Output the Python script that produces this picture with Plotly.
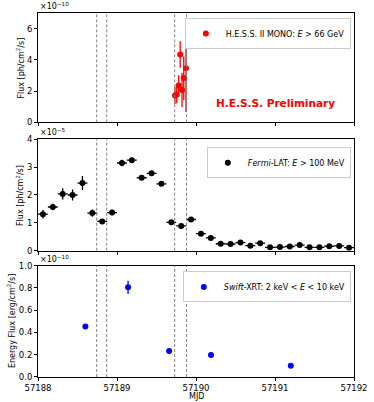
import plotly.graph_objects as go
from plotly.subplots import make_subplots

# H.E.S.S. II MONO light curve (units of 1e-10 ph/cm2/s)
hess_mjd = [57189.734, 57189.756, 57189.780, 57189.800, 57189.823, 57189.845, 57189.873]
hess_flux = [1.72, 1.78, 2.36, 4.35, 2.08, 2.84, 3.46]
hess_err = [0.55, 0.55, 0.65, 0.85, 1.1, 1.4, 2.8]

# Fermi-LAT 3-hour bins (units of 1e-5 ph/cm2/s)
fermi_mjd = [57188.0625 + 0.125 * i for i in range(32)]
fermi_flux = [1.31, 1.57, 2.04, 2.00, 2.43, 1.35, 1.05, 1.37, 3.15, 3.25, 2.62, 2.78,
              2.40, 1.02, 0.89, 1.12, 0.61, 0.46, 0.25, 0.24, 0.29, 0.18, 0.27, 0.12,
              0.13, 0.15, 0.20, 0.12, 0.12, 0.16, 0.17, 0.11]
fermi_err = [0.15, 0.12, 0.20, 0.20, 0.25, 0.13, 0.08, 0.10, 0.12, 0.10, 0.08, 0.08,
             0.07, 0.05, 0.06, 0.08, 0.05, 0.04, 0.03, 0.03, 0.04, 0.03, 0.03, 0.02,
             0.02, 0.03, 0.03, 0.02, 0.02, 0.03, 0.03, 0.02]
fermi_xerr = 0.0625

# Swift-XRT (units of 1e-10 erg/cm2/s)
swift_mjd = [57188.60, 57189.14, 57189.66, 57190.19, 57191.20]
swift_flux = [0.454, 0.805, 0.233, 0.197, 0.100]
swift_err = [0.015, 0.06, 0.015, 0.01, 0.008]

# dashed markers
vlines = [57188.743, 57188.87, 57189.73, 57189.88]

FONT = "DejaVu Sans"

fig = make_subplots(rows=3, cols=1, shared_xaxes=False)

fig.add_trace(go.Scatter(x=hess_mjd, y=hess_flux, mode="markers",
                         error_y=dict(type="data", array=hess_err, color="red", thickness=1.3, width=0),
                         marker=dict(color="red", size=6),
                         name="H.E.S.S. II MONO: <i>E</i> > 66 GeV", legend="legend"), row=1, col=1)
fig.add_trace(go.Scatter(x=fermi_mjd, y=fermi_flux, mode="markers",
                         error_y=dict(type="data", array=fermi_err, color="black", thickness=1.3, width=0),
                         error_x=dict(type="constant", value=fermi_xerr, color="black", thickness=1.3, width=0),
                         marker=dict(color="black", size=6),
                         name="<i>Fermi</i>-LAT: <i>E</i> > 100 MeV", legend="legend2"), row=2, col=1)
fig.add_trace(go.Scatter(x=swift_mjd, y=swift_flux, mode="markers",
                         error_y=dict(type="data", array=swift_err, color="blue", thickness=1.3, width=0),
                         marker=dict(color="blue", size=6),
                         name="<i>Swift</i>-XRT: 2 keV < <i>E</i> < 10 keV", legend="legend3"), row=3, col=1)

for r in (1, 2, 3):
    for v in vlines:
        fig.add_vline(x=v, line=dict(color="gray", width=1, dash="3px,2px"), row=r, col=1)

axis_style = dict(showline=True, linecolor="black", linewidth=1, mirror=True, ticks="outside",
                  ticklen=3, tickcolor="black", showgrid=False, zeroline=False, automargin=False,
                  tickfont=dict(family=FONT, size=8.5, color="black"))

domains = [[0.6995, 1.0], [0.347, 0.653], [0.0, 0.306]]
for i, (name_x, name_y) in enumerate([("xaxis", "yaxis"), ("xaxis2", "yaxis2"), ("xaxis3", "yaxis3")]):
    fig.layout[name_x].update(range=[57188, 57192], tickvals=[57188, 57189, 57190, 57191, 57192],
                              showticklabels=(i == 2), **axis_style)
    fig.layout[name_y].update(domain=domains[i], **axis_style)

fig.update_yaxes(range=[0, 7], tickvals=[0, 2, 4, 6], row=1, col=1)
fig.update_yaxes(range=[0, 4], tickvals=[0, 1, 2, 3, 4], row=2, col=1)
fig.update_yaxes(range=[0, 1], tickvals=[0, 0.2, 0.4, 0.6, 0.8, 1.0], tickformat=".1f", row=3, col=1)
fig.update_xaxes(row=3, col=1, tickformat="d")

# axis titles placed like matplotlib labels
title_font = dict(family=FONT, size=8, color="black")
for x, y, txt in [(-0.057, 0.85, "Flux [ph/cm<sup>2</sup>/s]"),
                  (-0.057, 0.50, "Flux [ph/cm<sup>2</sup>/s]"),
                  (-0.083, 0.153, "Energy Flux [erg/cm<sup>2</sup>/s]")]:
    fig.add_annotation(text=txt, xref="paper", yref="paper", x=x, y=y, textangle=-90,
                       xanchor="center", yanchor="middle", showarrow=False, font=title_font)
fig.add_annotation(text="MJD", xref="paper", yref="paper", x=0.5, y=-0.069,
                   xanchor="center", yanchor="bottom", showarrow=False, font=title_font,
                   borderpad=0)

leg = dict(xanchor="right", yanchor="top", bgcolor="white", bordercolor="#cccccc", borderwidth=1,
           font=dict(family=FONT, size=8, color="black"), itemwidth=30, tracegroupgap=0)
fig.update_layout(
    legend=dict(x=0.99, y=0.986, **leg),
    legend2=dict(x=0.99, y=0.631, **leg),
    legend3=dict(x=0.99, y=0.29, **leg),
)

for ytop, exp in [(1.0, "−10"), (0.653, "−5"), (0.306, "−10")]:
    fig.add_annotation(text=f"×10<sup>{exp}</sup>", xref="paper", yref="paper", x=0, y=ytop,
                       xanchor="left", yanchor="bottom", showarrow=False,
                       font=dict(family=FONT, size=8, color="black"))

fig.add_annotation(text="<b>H.E.S.S. Preliminary</b>", xref="x", yref="y", x=57191.0, y=1.23,
                   showarrow=False, font=dict(family=FONT, size=10.5, color="red"))

fig.update_layout(width=374, height=402, margin=dict(l=38, r=20, t=13, b=25),
                  plot_bgcolor="white", paper_bgcolor="white", showlegend=True,
                  font=dict(family=FONT, color="black"))

fig.write_html("out.html", config={"displayModeBar": False},
               post_script="document.body.style.margin='0px';document.body.style.overflow='hidden';")
